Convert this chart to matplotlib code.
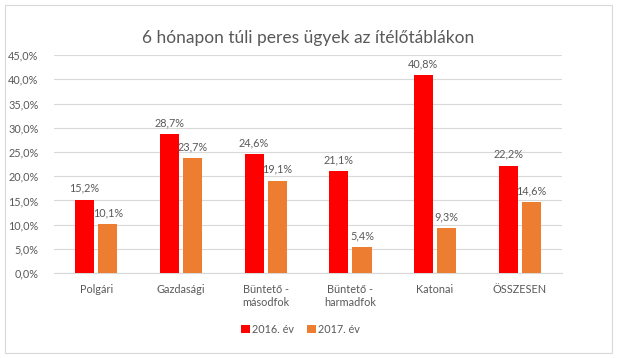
import numpy as np
import matplotlib.pyplot as plt
from matplotlib.patches import Rectangle

# Data
categories = ["Polgári", "Gazdasági", "Büntető -\nmásodfok", "Büntető -\nharmadfok", "Katonai", "ÖSSZESEN"]
values_2016 = [15.2, 28.7, 24.6, 21.1, 40.8, 22.2]
values_2017 = [10.1, 23.7, 19.1, 5.4, 9.3, 14.6]
series_names = ["2016. év", "2017. év"]

plt.rcParams['font.family'] = ['Lato', 'DejaVu Sans']
text_color = '#595959'

fig = plt.figure(figsize=(6.17, 3.58), dpi=100)
ax = fig.add_axes([0.0875, 0.237, 0.8235, 0.609])

x = np.arange(len(categories))
width = 0.225
gap = 0.05
b1 = ax.bar(x - (width + gap) / 2, values_2016, width, color='#FF0000', label=series_names[0], zorder=3)
b2 = ax.bar(x + (width + gap) / 2, values_2017, width, color='#ED7D31', label=series_names[1], zorder=3)

for bars, vals in [(b1, values_2016), (b2, values_2017)]:
    for rect, v in zip(bars, vals):
        ax.text(rect.get_x() + rect.get_width() / 2, v + 1.2, f"{v:.1f}%".replace('.', ','),
                ha='center', va='bottom', fontsize=7.8, color=text_color)

ax.set_ylim(0, 45)
ax.set_xlim(-0.5, len(categories) - 0.5)
yt = np.arange(0, 46, 5)
ax.set_yticks(yt)
ax.set_yticklabels([f"{t:.1f}%".replace('.', ',') for t in yt], fontsize=7.8, color=text_color)
ax.set_xticks(x)
ax.set_xticklabels(categories, fontsize=7.8, color=text_color)
ax.tick_params(length=0, pad=8)
ax.tick_params(axis='y', pad=11)
ax.grid(axis='y', color='#D9D9D9', linewidth=0.8, zorder=0)
for s in ['top', 'right', 'left']:
    ax.spines[s].set_visible(False)
ax.spines['bottom'].set_color('#D9D9D9')

fig.suptitle("6 hónapon túli peres ügyek az ítélőtáblákon", y=0.915, fontsize=12.5, color=text_color)

leg = fig.legend(handles=[b1, b2], loc='center', bbox_to_anchor=(0.487, 0.08), ncol=2, frameon=False,
                 fontsize=7.8, handlelength=0.8, handleheight=0.8, handletextpad=0.2, columnspacing=1.2)
for t in leg.get_texts():
    t.set_color(text_color)

fig.patches.append(Rectangle((0.008, 0.014), 0.984, 0.972, transform=fig.transFigure,
                             fill=False, edgecolor='#D9D9D9', linewidth=0.8))

fig.savefig("out.png", dpi=100)
